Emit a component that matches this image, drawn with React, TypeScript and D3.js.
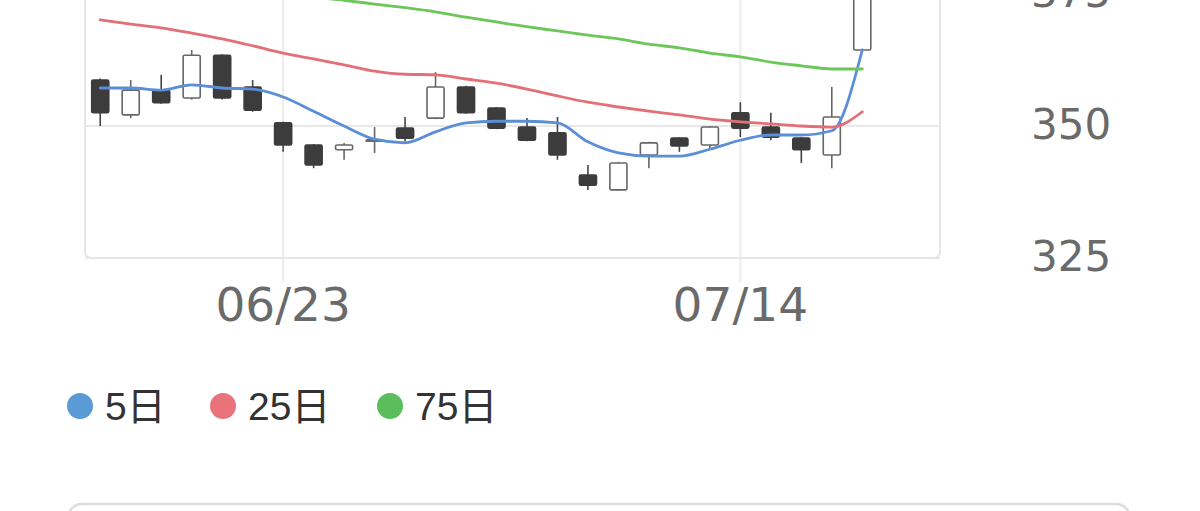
import React from "react";
import * as d3 from "d3";

const dates = ["06/13","06/16","06/17","06/18","06/19","06/20","06/23","06/24","06/25","06/26","06/27","06/30","07/01","07/02","07/03","07/04","07/07","07/08","07/09","07/10","07/11","07/14","07/15","07/16","07/17","07/18"];
const openV = [358.7,352.1,356.8,355.3,363.4,357.4,350.6,346.4,345.5,347.3,349.6,351.5,357.4,353.4,349.8,348.7,340.7,337.9,344.5,347.7,346.4,352.5,349.8,347.7,344.5,364.4];
const highV = [359.0,358.7,359.7,364.4,363.6,358.7,350.8,346.6,346.8,349.8,351.7,360.2,357.6,353.6,351.5,351.7,342.6,343.2,347.0,347.9,350.0,354.5,352.5,347.9,357.4,428.0];
const lowV = [350.0,351.5,354.2,355.0,355.0,352.7,345.1,342.0,343.6,344.9,347.0,351.3,352.3,349.4,347.1,343.6,337.9,337.7,342.0,345.1,345.5,347.9,347.3,343.0,342.0,364.0];
const closeV = [352.5,356.8,354.4,363.4,355.3,353.0,346.4,342.6,346.4,347.4,347.7,357.4,352.5,349.6,347.3,344.5,338.8,343.0,346.8,346.2,349.8,349.6,347.9,345.5,351.7,425.0];
const ma5 = [357.2,357.2,356.8,357.8,357.2,357.0,355.5,352.8,350.0,347.5,346.8,348.9,350.6,350.9,350.9,350.6,347.0,344.9,344.3,344.3,345.6,347.3,348.3,348.3,349.1,364.4];
const ma25 = [370.1,369.3,368.6,367.6,366.5,365.2,363.8,362.7,361.6,360.4,359.8,359.7,358.9,358.1,357.0,355.7,354.5,353.6,352.8,352.1,351.3,350.8,350.4,350.0,349.8,352.7];
const ma75 = [381.0,380.0,379.0,378.0,377.0,376.0,375.2,374.4,373.8,373.1,372.4,371.6,370.6,369.7,368.8,368.0,367.2,366.5,365.5,364.8,363.8,363.1,362.1,361.4,360.8,360.8];
const yTicks = [325, 350, 375];
const xTickLabels = ["06/23", "07/14"];
const legendLabels = ["5日", "25日", "75日"];
const legendColors = ["#5b9bd5", "#e8737b", "#5cbd5c"];
const lineColors = ["#5b8ed6", "#e36f77", "#6cc65a"];

export default function App() {
  const W = 1200, H = 511;
  const left = 85, right = 940, bottom = 258, top = -300;
  const x = d3.scaleLinear().domain([-0.5, 27.55]).range([left, right]);
  const y = d3.scaleLinear().domain([325, 375]).range([bottom, -6]);
  const step = x(1) - x(0);
  const cw = step * 0.56;
  const idx = dates.map((_, i) => i);

  const mkLine = (vals: number[]) =>
    d3.line<number>().x((_, i) => x(i)).y((v) => y(v)).curve(d3.curveMonotoneX)(vals) || "";

  const mas = [ma5, ma25, ma75];

  return (
    <svg width={W} height={H} style={{ position: "absolute", left: 0, top: 0, background: "#fff" }}>
      <defs>
        <clipPath id="plotclip">
          <rect x={left} y={top} width={right - left} height={bottom - top} />
        </clipPath>
      </defs>
      <rect x={0} y={0} width={W} height={H} fill="#fff" />
      {xTickLabels.map((lab) => {
        const i = dates.indexOf(lab);
        return (
          <line key={lab} x1={x(i)} x2={x(i)} y1={top} y2={bottom + 24} stroke="#ececec" strokeWidth={2} />
        );
      })}
      {yTicks.map((t) => (
        <line key={t} x1={left} x2={right} y1={y(t)} y2={y(t)} stroke="#e8e8e8" strokeWidth={2} />
      ))}
      <rect x={left} y={top} width={right - left} height={bottom - top} rx={6} fill="none" stroke="#e6e6e6" strokeWidth={2} />

      <g clipPath="url(#plotclip)">
        {idx.map((i) => {
          const o = openV[i], c = closeV[i], h = highV[i], l = lowV[i];
          const up = c >= o;
          const yt = y(Math.max(o, c));
          const yb = y(Math.min(o, c));
          const cx = x(i);
          return (
            <g key={i}>
              <line x1={cx} x2={cx} y1={y(h)} y2={y(l)} stroke={up ? "#666" : "#444"} strokeWidth={1.6} />
              <rect
                x={cx - cw / 2}
                y={yt}
                width={cw}
                height={Math.max(yb - yt, 1.5)}
                fill={up ? "#fff" : "#3c3c3c"}
                stroke={up ? "#666" : "#3c3c3c"}
                strokeWidth={1.6}
                rx={1.5}
              />
            </g>
          );
        })}
        {mas.map((m, k) => (
          <path key={k} d={mkLine(m)} fill="none" stroke={lineColors[k]} strokeWidth={2.8} strokeLinejoin="round" strokeLinecap="round" />
        ))}
      </g>

      {yTicks.map((t) => (
        <text key={t} x={1031} y={y(t) + 13} fontFamily="DejaVu Sans" fontSize={42} fill="#6a6a6a">
          {t}
        </text>
      ))}
      {xTickLabels.map((lab) => (
        <text key={lab} x={x(dates.indexOf(lab))} y={321} textAnchor="middle" fontFamily="DejaVu Sans" fontSize={47} fill="#6a6a6a">
          {lab}
        </text>
      ))}

      {legendLabels.map((lab, k) => {
        const lx = [80, 223, 390][k];
        return (
          <g key={lab}>
            <circle cx={lx} cy={406} r={13} fill={legendColors[k]} />
            <text x={lx + 25} y={420} fontFamily="Liberation Sans, Noto Sans CJK JP" fontSize={39} fill="#333">
              {lab}
            </text>
          </g>
        );
      })}

      <rect x={68} y={504} width={1062} height={120} rx={14} fill="none" stroke="#dddddd" strokeWidth={2.5} />
    </svg>
  );
}
